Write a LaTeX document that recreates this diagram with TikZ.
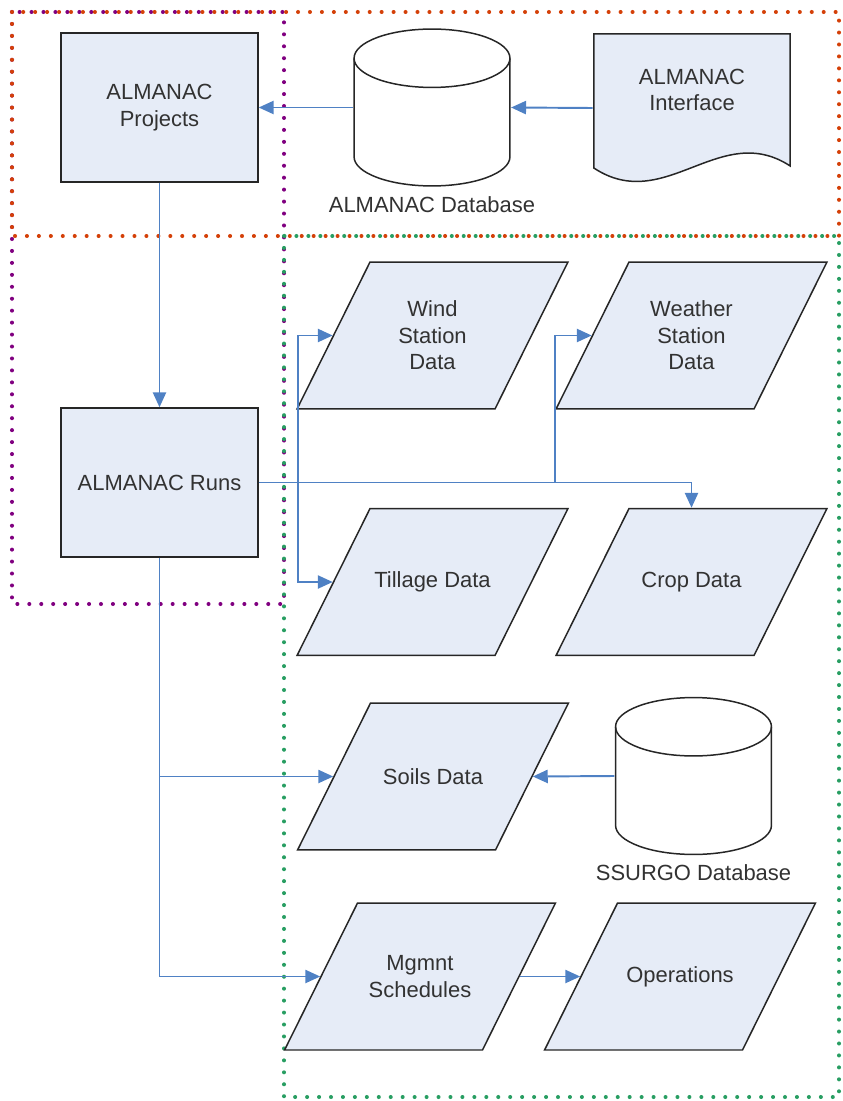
\documentclass[tikz,border=0pt]{standalone}
\usepackage{fontspec}
\setmainfont{Liberation Sans}
\usepackage{tikz}
\usetikzlibrary{arrows.meta,shapes.geometric,positioning}

\definecolor{boxfill}{RGB}{230,236,247}
\definecolor{flowblue}{RGB}{79,129,196}
\definecolor{grpurple}{RGB}{128,0,128}
\definecolor{grorange}{RGB}{212,64,8}
\definecolor{grgreen}{RGB}{40,158,98}
\definecolor{txtgray}{RGB}{50,50,50}

\begin{document}
\begin{tikzpicture}[x=0.02cm,y=-0.02cm,>={Triangle[length=8.5pt,width=7.5pt]},
  font=\fontsize{12.5}{15}\selectfont,text=txtgray,
  proc node/.style={rectangle,draw=black!85,fill=boxfill,line width=0.85pt,
    minimum width=3.94cm,minimum height=2.98cm,align=center},
  data node/.style={trapezium,trapezium left angle=63.6,trapezium right angle=116.4,
    draw=black!85,fill=boxfill,line width=0.85pt,inner sep=0pt,
    execute at begin node={\begin{minipage}[c][2.94cm][c]{2.5cm}\centering},
    execute at end node={\end{minipage}}},
  db node/.style={rectangle,minimum width=3.15cm,minimum height=3.17cm,inner sep=0pt,
    path picture={
      \draw[line width=0.85pt,draw=black!85,fill=white]
        (-77.95,-49.25) -- (-77.95,49.25) arc[start angle=180,end angle=0,x radius=77.95,y radius=29.2]
        -- (77.95,-49.25) arc[start angle=0,end angle=-180,x radius=77.95,y radius=29.2];
      \draw[line width=0.85pt,draw=black!85]
        (-77.95,-49.25) arc[start angle=180,end angle=0,x radius=77.95,y radius=29.2];
    }},
  doc node/.style={rectangle,minimum width=3.96cm,minimum height=3cm,inner sep=0pt,
    path picture={
      \draw[line width=0.85pt,draw=black!85,fill=boxfill]
        (-98.2,-74.2) -- (98.2,-74.2) -- (98.2,58)
        .. controls (28,12) and (-27,107) .. (-98.2,60) -- cycle;
    }},
  txt node/.style={align=center,inner sep=0pt},
  flow/.style={->,draw=flowblue,line width=1.1pt},
  grp line/.style={line width=2.3pt,line cap=round,dash pattern=on 0pt off 6.8pt}]

  \useasboundingbox (0,0) rectangle (842,1101);

  % group frames
  \draw[grp line,grpurple] (12,12) rectangle (284,604);
  \draw[grp line,grorange] (12,12) rectangle (839,236);
  \draw[grp line,grgreen]  (284,236) rectangle (839,1097);

  % nodes
  \node[proc node] (proj)    at (159.5,107.5) {ALMANAC\\Projects};
  \node[db node]   (almdb)   at (432,107.5) {};
  \node[txt node,below=5pt of almdb] (almdblbl) {ALMANAC Database};
  \node[doc node]  (iface)   at (692,108) {};
  \node[txt node]  (ifacetxt) at (692,90) {ALMANAC\\Interface};

  \node[proc node] (runs)    at (159.5,482.5) {ALMANAC Runs};
  \node[data node] (wind)    at (432.5,335.5) {Wind\\Station\\Data};
  \node[data node] (weather) at (691.5,335.5) {Weather\\Station\\Data};
  \node[data node] (tillage) at (432.5,582) {Tillage Data};
  \node[data node] (crop)    at (691.5,582) {Crop Data};

  \node[data node] (soils)   at (433,776.5) {Soils Data};
  \node[db node]   (ssurgo)  at (693.5,776) {};
  \node[txt node,below=5pt of ssurgo] (ssurgolbl) {SSURGO Database};
  \node[data node] (mgmnt)   at (420,976.5) {Mgmnt\\Schedules};
  \node[data node] (ops)     at (680,976.5) {Operations};

  \coordinate (jwind)    at (298,482.5);
  \coordinate (jweather) at (555,482.5);
  \coordinate (jsoils)   at (runs.south |- soils.west);

  % connectors
  \draw[flow] (iface.west) -- (almdb.east);
  \draw[flow] (almdb.west) -- (proj.east);
  \draw[flow] (proj.south) -- (runs.north);
  \draw[flow] (runs.east) -| (crop.north);
  \draw[flow] (jwind) |- (wind.west);
  \draw[flow] (jwind) |- (tillage.west);
  \draw[flow] (jweather) |- (weather.west);
  \draw[flow] (runs.south) |- (mgmnt.west);
  \draw[flow] (jsoils) -- (soils.west);
  \draw[flow] (ssurgo.west) -- (soils.east);
  \draw[flow] (mgmnt.east) -- (ops.west);
\end{tikzpicture}
\end{document}
